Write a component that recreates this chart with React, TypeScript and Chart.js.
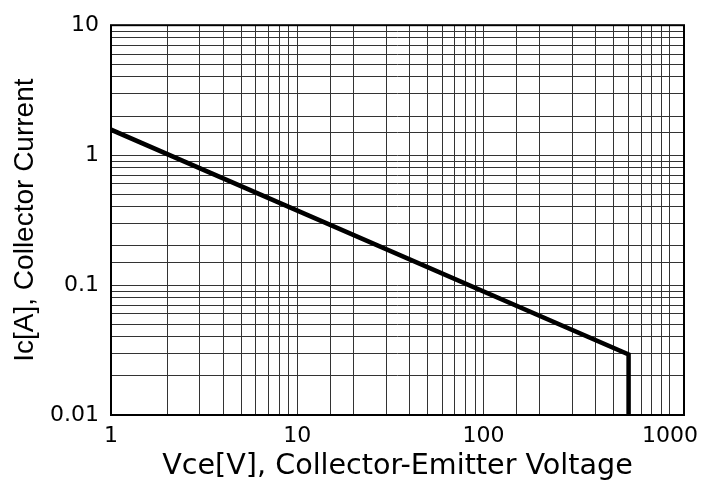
import React, { useEffect, useRef } from "react";
import { Chart, registerables } from "chart.js";

Chart.register(...registerables);

// Safe operating area boundary (log-log)
const vceValues = [1, 600, 600];
const icValues = [1.57, 0.0292, 0.01];

const xTickValues = [1, 10, 100, 1000];
const xTickLabels = ["1", "10", "100", "1000"];
const yTickValues = [0.01, 0.1, 1, 10];
const yTickLabels = ["0.01", "0.1", "1", "10"];

const xRange = [1, 1190];
const yRange = [0.01, 10];

const xTitle = "Vce[V], Collector-Emitter Voltage";
const yTitle = "Ic[A], Collector Current";

function labelFor(v: number, values: number[], labels: string[]) {
  for (let i = 0; i < values.length; i++) {
    if (Math.abs(Math.log10(v) - Math.log10(values[i])) < 1e-6) return labels[i];
  }
  return "";
}

const frame = {
  id: "frame",
  afterDatasetsDraw(chart: any) {
    const { ctx, chartArea } = chart;
    ctx.save();
    ctx.strokeStyle = "#000";
    ctx.lineWidth = 2;
    ctx.strokeRect(chartArea.left, chartArea.top, chartArea.right - chartArea.left, chartArea.bottom - chartArea.top);
    ctx.restore();
  },
};

export default function App() {
  const ref = useRef<HTMLCanvasElement | null>(null);
  useEffect(() => {
    if (!ref.current) return;
    const chart = new Chart(ref.current, {
      type: "scatter",
      data: {
        datasets: [
          {
            data: vceValues.map((x, i) => ({ x, y: icValues[i] })),
            showLine: true,
            borderColor: "#000",
            borderWidth: 4.5,
            pointRadius: 0,
            fill: false,
            tension: 0,
          },
        ],
      },
      options: {
        animation: false,
        responsive: false,
        devicePixelRatio: 1,
        layout: { padding: { top: 16, right: 34, left: 0, bottom: 0 } },
        plugins: { legend: { display: false }, tooltip: { enabled: false } },
        scales: {
          x: {
            type: "logarithmic",
            min: xRange[0],
            max: xRange[1],
            afterFit: (s: any) => {
              s.height = 69;
            },
            grid: { color: "#333", lineWidth: 1, drawTicks: false },
            border: { display: false },
            ticks: {
              autoSkip: false,
              maxRotation: 0,
              padding: 8,
              color: "#000",
              font: { family: "DejaVu Sans", size: 22 },
              callback: (v: any) => labelFor(Number(v), xTickValues, xTickLabels),
            },
            title: {
              display: true,
              text: xTitle,
              color: "#000",
              padding: { top: 0, bottom: 0 },
              font: { family: "DejaVu Sans", size: 28.6, weight: "normal" },
            },
          },
          y: {
            type: "logarithmic",
            min: yRange[0],
            max: yRange[1],
            afterFit: (s: any) => {
              s.width = 111;
            },
            grid: { color: "#333", lineWidth: 1, drawTicks: false },
            border: { display: false },
            ticks: {
              autoSkip: false,
              padding: 12,
              color: "#000",
              font: { family: "DejaVu Sans", size: 22 },
              callback: (v: any) => labelFor(Number(v), yTickValues, yTickLabels),
            },
            title: {
              display: true,
              text: yTitle,
              color: "#000",
              padding: { top: 8, bottom: 0 },
              font: { family: "Liberation Sans", size: 28, weight: "normal" },
            },
          },
        },
      },
      plugins: [frame],
    });
    return () => chart.destroy();
  }, []);
  return (
    <div style={{ position: "absolute", left: 0, top: 0, width: 718, height: 484, background: "#fff" }}>
      <canvas ref={ref} width={718} height={484} />
    </div>
  );
}
